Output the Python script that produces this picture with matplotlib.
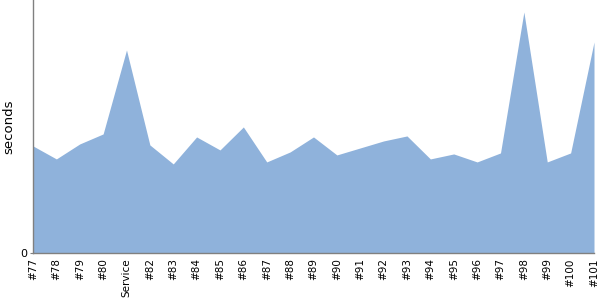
import matplotlib
matplotlib.use("Agg")
import matplotlib.pyplot as plt

builds = ["#77", "#78", "#79", "#80", "Service", "#82", "#83", "#84", "#85",
          "#86", "#87", "#88", "#89", "#90", "#91", "#92", "#93", "#94",
          "#95", "#96", "#97", "#98", "#99", "#100", "#101"]
seconds = [107, 94, 109, 119, 203, 108, 89, 116, 103, 126, 91, 101, 116,
           98, 105, 112, 117, 94, 99, 91, 100, 241, 91, 100, 211]

fig = plt.figure(figsize=(6, 3), dpi=100)
ax = fig.add_axes([0.055, 0.157, 0.935, 0.843])

x = list(range(len(builds)))
ax.fill_between(x, seconds, 0, color="#8fb2db", linewidth=0)

ax.set_xlim(0, len(builds) - 1)
ax.set_ylim(0, 253)
ax.set_xticks(x)
ax.set_xticklabels(builds, rotation=90, fontsize=7.5, va="top", ha="center")
ax.set_yticks([0])
ax.set_yticklabels(["0"], fontsize=8)
ax.tick_params(axis="x", length=0, pad=4)
ax.tick_params(axis="y", length=2, pad=2, color="#808080")
ax.set_ylabel("seconds", fontsize=9.5, labelpad=4)

for side in ["top", "right"]:
    ax.spines[side].set_visible(False)
for side in ["left", "bottom"]:
    ax.spines[side].set_color("#808080")
    ax.spines[side].set_linewidth(1)

fig.savefig("out.png", dpi=100)
